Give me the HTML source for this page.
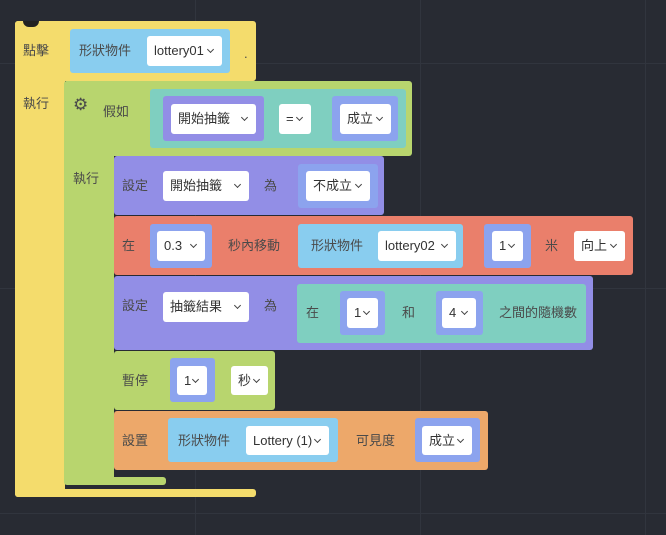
<!DOCTYPE html>
<html><head><meta charset="utf-8"><style>
body{margin:0;width:666px;height:535px;overflow:hidden;background:#282b33;position:relative;font-family:"Liberation Sans","Noto Sans CJK TC",sans-serif;}
.g{position:absolute;background:#31353e}
div.b{position:absolute;border-radius:3px}
.t{position:absolute;font-size:13px;color:#4a4a4a;line-height:16px;white-space:nowrap}
.d{position:absolute;background:#fff;border-radius:3px;font-size:13px;color:#333;line-height:29px;padding-left:7px;box-sizing:border-box;white-space:nowrap}
.d:after{content:"";position:absolute;right:9px;top:11px;width:4px;height:4px;border-right:1.5px solid #444;border-bottom:1.5px solid #444;transform:rotate(45deg)}
.n{position:absolute;width:14px;height:7px;border-radius:0 0 7px 7px;background:#282b33}
.y{background:#f4dc6c}.gr{background:#b8d56e}.pu{background:#928ee6}.lp{background:#8ca3ee}.te{background:#7fcfc0}.re{background:#ea7f6b}.or{background:#eda86a}.bl{background:#89cdef}
</style></head><body>
<div class="g" style="left:195px;top:0;width:1px;height:535px"></div>
<div class="g" style="left:420px;top:0;width:1px;height:535px"></div>
<div class="g" style="left:645px;top:0;width:1px;height:535px"></div>
<div class="g" style="left:0;top:63px;width:666px;height:1px"></div>
<div class="g" style="left:0;top:288px;width:666px;height:1px"></div>
<div class="g" style="left:0;top:513px;width:666px;height:1px"></div>

<!-- yellow -->
<div class="b y" style="left:15px;top:21px;width:241px;height:60px"></div>
<div class="b y" style="left:15px;top:21px;width:50px;height:476px"></div>
<div class="b y" style="left:15px;top:489px;width:241px;height:8px"></div>
<div class="n" style="left:23px;top:21px;width:16px;height:6px;background:#222"></div>
<div class="t" style="left:23px;top:43px">點擊</div>
<div class="t" style="left:23px;top:96px">執行</div>
<div class="b bl" style="left:70px;top:29px;width:160px;height:44px"></div>
<div class="t" style="left:79px;top:43px">形狀物件</div>
<div class="d" style="left:147px;top:36px;width:75px;height:30px">lottery01</div>
<div class="t" style="left:244px;top:46px">.</div>

<!-- green if -->
<div class="b gr" style="left:64px;top:81px;width:348px;height:75px"></div>
<div class="b gr" style="left:64px;top:81px;width:50px;height:403px"></div>
<div class="b gr" style="left:64px;top:477px;width:102px;height:8px"></div>
<div class="t" style="left:73px;top:97px;font-size:17px">⚙</div>
<div class="t" style="left:103px;top:104px">假如</div>
<div class="t" style="left:73px;top:171px">執行</div>
<div class="b te" style="left:150px;top:89px;width:256px;height:59px"></div>
<div class="b pu" style="left:163px;top:96px;width:101px;height:45px"></div>
<div class="d" style="left:171px;top:104px;width:85px;height:30px">開始抽籤</div>
<div class="d" style="left:279px;top:104px;width:32px;height:30px">=</div>
<div class="b lp" style="left:332px;top:96px;width:66px;height:45px"></div>
<div class="d" style="left:340px;top:104px;width:51px;height:30px">成立</div>

<!-- set 1 -->
<div class="b pu" style="left:114px;top:156px;width:270px;height:59px"></div>
<div class="t" style="left:122px;top:178px">設定</div>
<div class="d" style="left:163px;top:171px;width:86px;height:30px">開始抽籤</div>
<div class="t" style="left:264px;top:178px">為</div>
<div class="b lp" style="left:298px;top:164px;width:80px;height:44px"></div>
<div class="d" style="left:306px;top:171px;width:64px;height:30px">不成立</div>

<!-- red move -->
<div class="b re" style="left:114px;top:216px;width:519px;height:59px"></div>
<div class="t" style="left:122px;top:238px">在</div>
<div class="b lp" style="left:150px;top:224px;width:62px;height:44px"></div>
<div class="d" style="left:157px;top:231px;width:48px;height:30px">0.3</div>
<div class="t" style="left:228px;top:238px">秒內移動</div>
<div class="b bl" style="left:298px;top:224px;width:165px;height:44px"></div>
<div class="t" style="left:311px;top:238px">形狀物件</div>
<div class="d" style="left:378px;top:231px;width:78px;height:30px">lottery02</div>
<div class="b lp" style="left:484px;top:224px;width:47px;height:44px"></div>
<div class="d" style="left:492px;top:231px;width:31px;height:30px">1</div>
<div class="t" style="left:545px;top:238px">米</div>
<div class="d" style="left:574px;top:231px;width:51px;height:30px">向上</div>

<!-- set 2 -->
<div class="b pu" style="left:114px;top:276px;width:479px;height:74px"></div>
<div class="t" style="left:122px;top:298px">設定</div>
<div class="d" style="left:163px;top:292px;width:86px;height:30px">抽籤結果</div>
<div class="t" style="left:264px;top:298px">為</div>
<div class="b te" style="left:297px;top:284px;width:289px;height:59px"></div>
<div class="t" style="left:306px;top:305px">在</div>
<div class="b lp" style="left:340px;top:291px;width:45px;height:44px"></div>
<div class="d" style="left:347px;top:298px;width:31px;height:30px">1</div>
<div class="t" style="left:402px;top:305px">和</div>
<div class="b lp" style="left:436px;top:291px;width:47px;height:44px"></div>
<div class="d" style="left:442px;top:298px;width:34px;height:30px">4</div>
<div class="t" style="left:499px;top:305px">之間的隨機數</div>

<!-- pause -->
<div class="b gr" style="left:114px;top:351px;width:161px;height:59px"></div>
<div class="t" style="left:122px;top:373px">暫停</div>
<div class="b lp" style="left:170px;top:358px;width:45px;height:44px"></div>
<div class="d" style="left:177px;top:366px;width:30px;height:29px">1</div>
<div class="d" style="left:231px;top:366px;width:37px;height:29px">秒</div>

<!-- visibility -->
<div class="b or" style="left:114px;top:411px;width:374px;height:59px"></div>
<div class="t" style="left:122px;top:433px">設置</div>
<div class="b bl" style="left:168px;top:418px;width:170px;height:44px"></div>
<div class="t" style="left:178px;top:433px">形狀物件</div>
<div class="d" style="left:246px;top:426px;width:83px;height:29px">Lottery (1)</div>
<div class="t" style="left:356px;top:433px">可見度</div>
<div class="b lp" style="left:415px;top:418px;width:65px;height:44px"></div>
<div class="d" style="left:422px;top:426px;width:50px;height:29px">成立</div>
</body></html>
